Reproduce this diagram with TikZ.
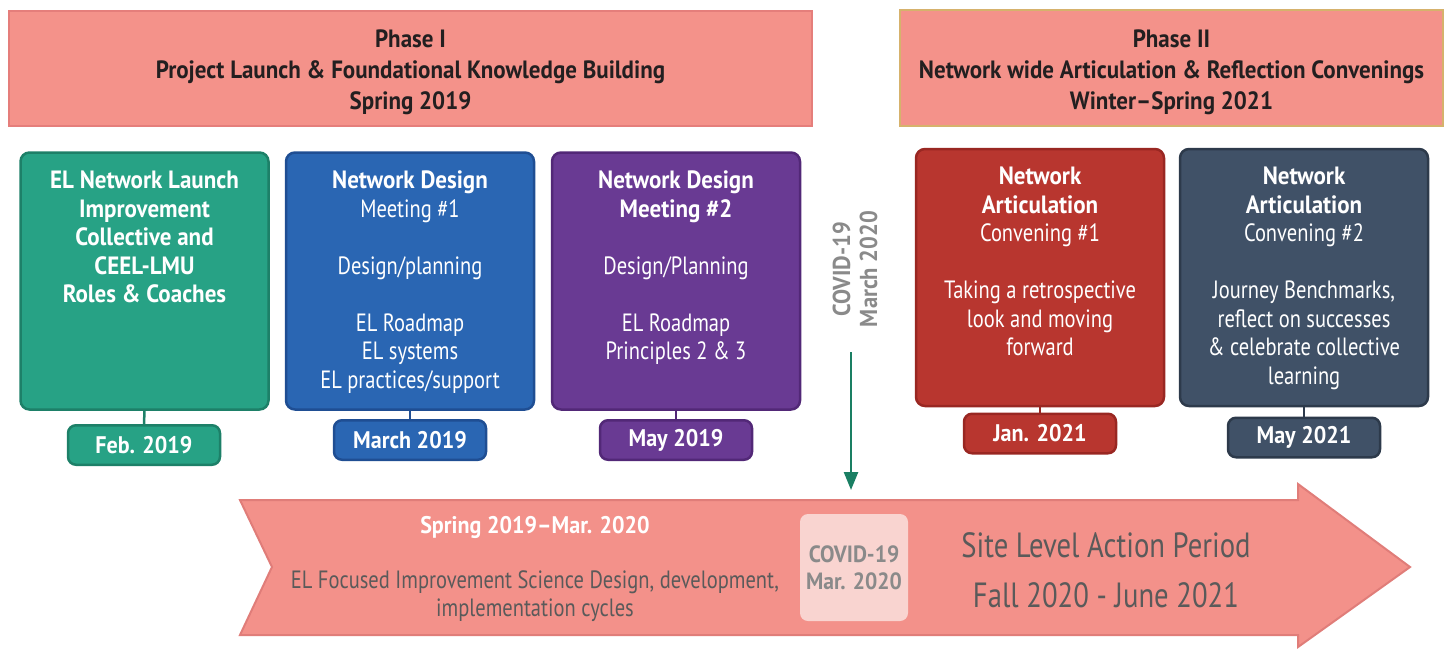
\documentclass[tikz,border=0pt]{standalone}
\usepackage{fontspec}
\setmainfont{PT Sans}[FakeStretch=0.82, BoldFeatures={FakeStretch=0.92}]
\usetikzlibrary{arrows.meta}
\definecolor{phasefill}{HTML}{F4928A}
\definecolor{phaseIborder}{HTML}{E57E7B}
\definecolor{phaseIIborder}{HTML}{D6B26C}
\definecolor{phasetext}{HTML}{231F20}
\definecolor{gfill}{HTML}{27A285}
\definecolor{gborder}{HTML}{1D8068}
\definecolor{bfill}{HTML}{2A66B3}
\definecolor{bborder}{HTML}{1F4E93}
\definecolor{pfill}{HTML}{693A93}
\definecolor{pborder}{HTML}{522877}
\definecolor{rfill}{HTML}{B8362F}
\definecolor{rborder}{HTML}{992722}
\definecolor{sfill}{HTML}{405167}
\definecolor{sborder}{HTML}{2D3A4B}
\definecolor{arrowfill}{HTML}{F3918A}
\definecolor{arrowborder}{HTML}{E07D79}
\definecolor{arrowtext}{HTML}{5A5A5A}
\definecolor{covidgray}{HTML}{8A8A8A}
\definecolor{covidboxfill}{HTML}{F9D4D0}
\definecolor{covidarrow}{HTML}{1A7F63}
\begin{document}
\begin{tikzpicture}[x=1pt,y=-1pt,
  card/.style={draw, line width=2.5pt, rounded corners=9pt, minimum width=248pt, minimum height=257pt, inner sep=0pt},
  datetab/.style={draw, line width=2.5pt, rounded corners=8pt, minimum width=152pt, minimum height=39.5pt, inner sep=0pt, text=white, font=\fontsize{24}{28}\selectfont\bfseries},
  ctext/.style={anchor=north, align=center, text=white, inner sep=0pt, font=\fontsize{25}{28.5}\selectfont},
  stem/.style={line width=2.5pt},
  phase/.style={draw, line width=2.5pt, fill=phasefill, align=center, text=phasetext, inner sep=0pt, font=\fontsize{25}{31}\selectfont\bfseries},
]
\useasboundingbox (0,0) rectangle (1447,649);
% phase headers
\node[phase, draw=phaseIborder, minimum width=803pt, minimum height=115pt] (phaseI) at (410.5,68.5)
  {\raisebox{-4pt}[\height][\depth]{\parbox{700pt}{\centering Phase I\\Project Launch \& Foundational Knowledge Building\\Spring 2019}}};
\node[phase, draw=phaseIIborder, minimum width=543pt, minimum height=116pt] (phaseII) at (1171.5,68)
  {\raisebox{-4pt}[\height][\depth]{\parbox{540pt}{\centering Phase II\\Network wide Articulation \& Reflection Convenings\\Winter--Spring 2021}}};
% cards
\node[card, fill=gfill, draw=gborder] (c1) at (144.5,281) {};
\node[card, fill=bfill, draw=bborder] (c2) at (410,281) {};
\node[card, fill=pfill, draw=pborder] (c3) at (676,281) {};
\node[card, fill=rfill, draw=rborder] (c4) at (1040,277.5) {};
\node[card, fill=sfill, draw=sborder] (c5) at (1304,277.5) {};
% card texts
\node[ctext] (t1) at (144.5,171) {\bfseries EL Network Launch\\\bfseries Improvement\\\bfseries Collective and\\\bfseries CEEL-LMU\\\bfseries Roles \& Coaches};
\node[ctext] (t2) at (410,171) {\bfseries Network Design\\Meeting \#1\\[28.5pt]Design/planning\\[28.5pt]EL Roadmap\\EL systems\\EL practices/support};
\node[ctext] (t3) at (676,171) {\bfseries Network Design\\\bfseries Meeting \#2\\[28.5pt]Design/Planning\\[28.5pt]EL Roadmap\\Principles 2 \& 3};
\node[ctext] (t4) at (1040,167) {\bfseries Network\\\bfseries Articulation\\Convening \#1\\[28.5pt]Taking a retrospective\\look and moving\\forward};
\node[ctext] (t5) at (1304,167) {\bfseries Network\\\bfseries Articulation\\Convening \#2\\[28.5pt]Journey Benchmarks,\\reflect on successes\\\& celebrate collective\\learning};
% date tabs
\node[datetab, fill=gfill, draw=gborder] (d1) at (144,445) {Feb. 2019};
\node[datetab, fill=bfill, draw=bborder] (d2) at (410,440) {March 2019};
\node[datetab, fill=pfill, draw=pborder] (d3) at (676,440) {May 2019};
\node[datetab, fill=rfill, draw=rborder] (d4) at (1040,433.5) {Jan. 2021};
\node[datetab, fill=sfill, draw=sborder] (d5) at (1304,437.5) {May 2021};
\draw[stem, gborder] (c1.south) -- (d1.north);
\draw[stem, bborder] (c2.south) -- (d2.north);
\draw[stem, pborder] (c3.south) -- (d3.north);
\draw[stem, rborder] (c4.south) -- (d4.north);
\draw[stem, sborder] (c5.south) -- (d5.north);
% big arrow
\draw[fill=arrowfill, draw=arrowborder, line width=2pt, line join=miter]
  (240,500) -- (1298,500) -- (1298,484) -- (1410,567) -- (1298,647) -- (1298,635) -- (240,635) -- (272,567) -- cycle;
\node[font=\fontsize{24}{28}\selectfont\bfseries, text=white, inner sep=0pt] (aspring) at (535,527) {Spring 2019--Mar. 2020};
\node[align=center, font=\fontsize{25}{28}\selectfont, text=arrowtext, inner sep=0pt] (adesc) at (535,596)
  {EL Focused Improvement Science Design, development,\\implementation cycles};
\node[rounded corners=8pt, fill=covidboxfill, minimum width=108pt, minimum height=107pt, align=center, text=covidgray, inner sep=0pt, font=\fontsize{23.5}{27}\selectfont\bfseries] (covidbox) at (854,567.5) {COVID-19\\Mar. 2020};
\node[align=center, font=\fontsize{35}{50}\selectfont, text=arrowtext, inner sep=0pt] (site) at (1106,570)
  {Site Level Action Period\\Fall 2020 - June 2021};
% covid marker
\node[rotate=90, align=center, text=covidgray, inner sep=0pt, font=\fontsize{24.5}{27}\selectfont\bfseries] (covid) at (855,269) {COVID-19\\March 2020};
\coordinate (ca) at (851,352);
\coordinate (cb) at (851,490);
\draw[covidarrow, line width=2.5pt, -{Triangle[length=18pt, width=14pt]}] (ca) -- (cb);
\end{tikzpicture}
\end{document}
